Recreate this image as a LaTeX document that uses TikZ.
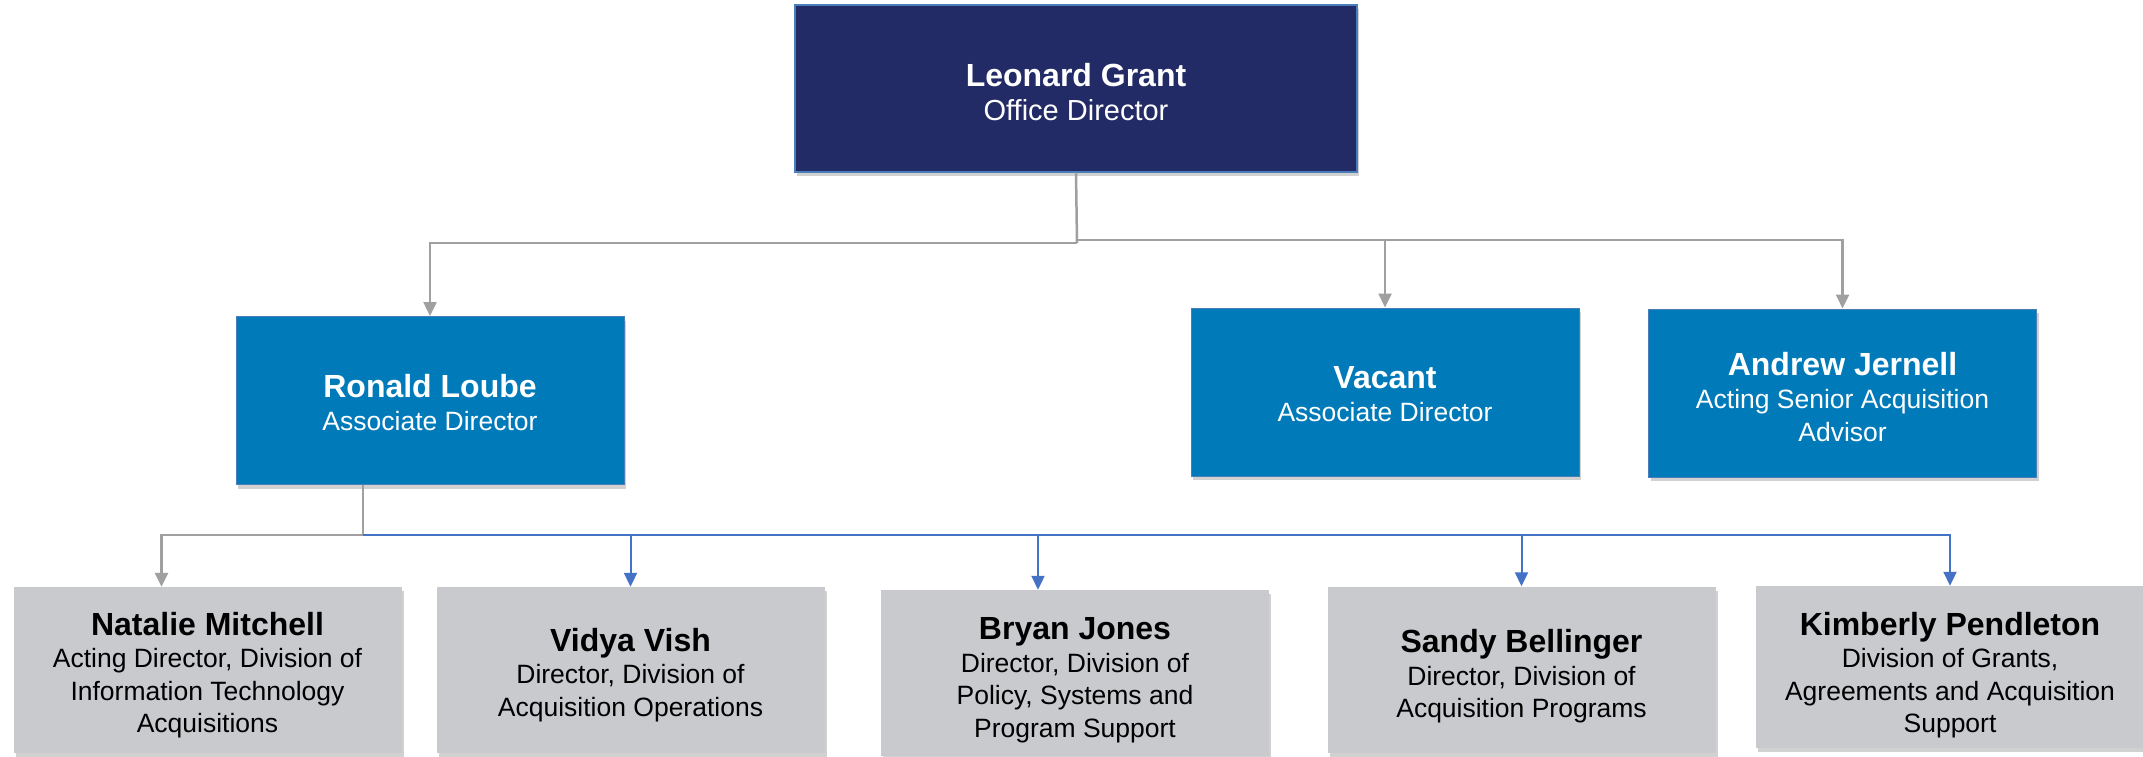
\documentclass[tikz,border=0pt]{standalone}
\usepackage{fontspec}
\setmainfont{Liberation Sans}
\usetikzlibrary{arrows.meta,shadows}

\definecolor{navy}{RGB}{35,43,102}
\definecolor{midblue}{RGB}{0,122,185}
\definecolor{edgeblue}{RGB}{74,126,187}
\definecolor{boxgray}{RGB}{200,202,206}
\definecolor{linegray}{RGB}{160,160,160}
\definecolor{lineblue}{RGB}{68,114,196}

\tikzset{
  shade box/.style={drop shadow={shadow xshift=2pt,shadow yshift=-4pt,opacity=0.18,fill=black}},
  topbox/.style={rectangle,shade box,fill=navy,draw=edgeblue,line width=1.2pt,
    minimum width=562pt,minimum height=167pt,inner sep=0pt},
  toptext/.style={text=white,align=center,inner sep=0pt,font=\fontsize{29}{34}\selectfont},
  midbox/.style={rectangle,shade box,fill=midblue,draw=edgeblue,line width=1pt,
    minimum width=388pt,minimum height=168pt,inner sep=0pt},
  midtext/.style={text=white,align=center,inner sep=0pt,font=\fontsize{26.5}{33}\selectfont},
  lowbox/.style={rectangle,shade box,fill=boxgray,
    minimum width=388pt,minimum height=166pt,inner sep=0pt},
  lowtext/.style={text=black,align=center,inner sep=0pt,font=\fontsize{26.5}{32.5}\selectfont},
  gline/.style={draw=linegray,line width=2.5pt},
  garrow/.style={gline,-{Triangle[length=14pt,width=13pt]}},
  bline/.style={draw=lineblue,line width=2pt},
  barrow/.style={bline,-{Triangle[length=14pt,width=13pt]}},
}
\newcommand{\pname}[1]{{\fontsize{32}{34}\selectfont\bfseries #1}}
% \orgbox{box style}{text style}{name}{position}{text drop}{text}
\newcommand{\orgbox}[6]{%
  \node[#1] (#3) at #4 {};
  \node[#2] (#3-text) at ([yshift=-#5pt]#3.center) {#6};
}

\begin{document}
\begin{tikzpicture}[x=1pt,y=-1pt]
\useasboundingbox (0,0) rectangle (2143,757);

% boxes
\orgbox{topbox}{toptext}{grant}{(1076,88.5)}{4}{\pname{Leonard Grant}\\Office Director}

\orgbox{midbox}{midtext}{loube}{(430,400.5)}{2}{\pname{Ronald Loube}\\Associate Director}
\orgbox{midbox}{midtext}{vacant}{(1385,392)}{2}{\pname{Vacant}\\Associate Director}
\orgbox{midbox}{midtext}{jernell}{(1842.5,393)}{4}{\pname{Andrew Jernell}\\Acting Senior Acquisition\\Advisor}

\orgbox{lowbox}{lowtext}{mitchell}{(207.5,670)}{5}{\pname{Natalie Mitchell}\\Acting Director, Division of\\Information Technology\\Acquisitions}
\orgbox{lowbox}{lowtext}{vish}{(630.5,670)}{5}{\pname{Vidya Vish}\\Director, Division of\\Acquisition Operations}
\orgbox{lowbox}{lowtext}{jones}{(1075,673)}{7}{\pname{Bryan Jones}\\Director, Division of\\Policy, Systems and\\Program Support}
\orgbox{lowbox}{lowtext}{bellinger}{(1521.5,669.5)}{7}{\pname{Sandy Bellinger}\\Director, Division of\\Acquisition Programs}
\orgbox{lowbox,minimum height=162pt}{lowtext}{pendleton}{(1950,667)}{8}{\pname{Kimberly Pendleton}\\Division of Grants,\\Agreements and Acquisition\\Support}

% junction points
\coordinate (jtopL) at (1077,243);
\coordinate (jtopR) at (1077,240);
\coordinate (jlow) at (363,535);

% office director to associate directors
\draw[gline] (grant.south) -- (jtopL);
\draw[garrow] (jtopL) -| (loube.north);
\draw[garrow] (jtopR) -| (vacant.north);
\draw[garrow] (jtopR) -| (jernell.north);

% associate director to divisions
\draw[gline] (loube.south -| jlow) -- (jlow);
\draw[garrow] (jlow) -| ([xshift=-46pt]mitchell.north);
\draw[barrow] (jlow) -| (vish.north);
\draw[barrow] (jlow) -| ([xshift=-37pt]jones.north);
\draw[barrow] (jlow) -| (bellinger.north);
\draw[barrow] (jlow) -| (pendleton.north);
\end{tikzpicture}
\end{document}
